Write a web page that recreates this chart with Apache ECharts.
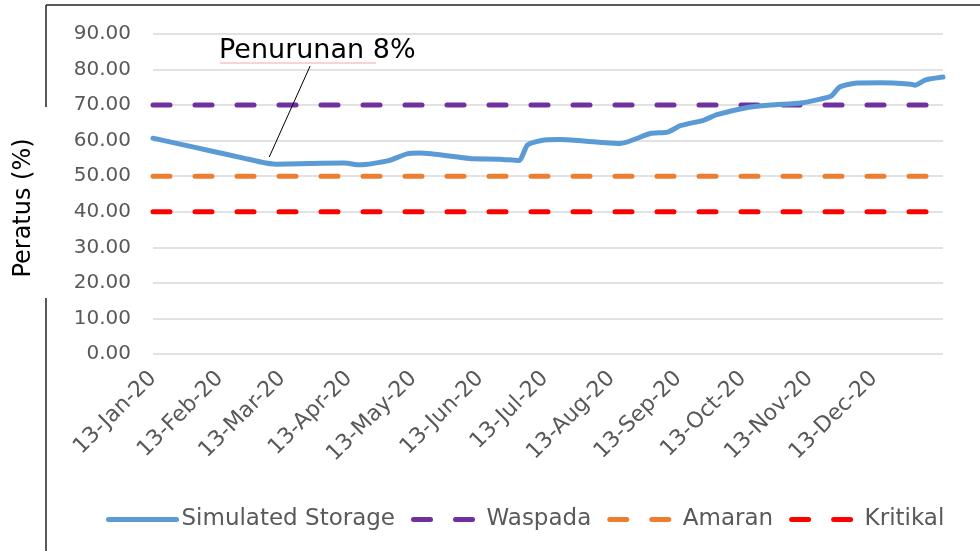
<!DOCTYPE html>
<html>
<head>
<meta charset="utf-8">
<script src="https://cdn.jsdelivr.net/npm/echarts@6/dist/echarts.min.js"></script>
<style>
  html, body { margin: 0; padding: 0; background: #fff; }
  #main { width: 980px; height: 551px; }
</style>
</head>
<body>
<div id="main"></div>
<script>
// data
const storageDates = [
  '2020-01-13', '2020-01-25', '2020-02-09', '2020-02-24', '2020-03-03', '2020-03-10',
  '2020-03-21', '2020-04-11', '2020-04-18', '2020-05-01', '2020-05-10', '2020-05-16',
  '2020-06-08', '2020-06-22', '2020-07-01', '2020-07-05', '2020-07-11', '2020-07-20',
  '2020-08-08', '2020-08-17', '2020-08-31', '2020-09-08', '2020-09-14', '2020-09-25',
  '2020-10-01', '2020-10-14', '2020-10-26', '2020-11-09', '2020-11-18', '2020-11-23',
  '2020-11-27', '2020-12-05', '2020-12-16', '2020-12-30', '2021-01-01', '2021-01-06',
  '2021-01-14'
];
const storageValues = [
  60.7, 59.1, 57.1, 55.1, 54.0, 53.4,
  53.5, 53.7, 53.2, 54.3, 56.3, 56.5,
  55.0, 54.8, 54.4, 58.8, 60.0, 60.3,
  59.5, 59.2, 62.0, 62.4, 64.2, 65.8,
  67.3, 69.2, 70.0, 70.6, 71.7, 72.5,
  75.1, 76.2, 76.3, 75.9, 75.6, 77.1,
  77.9
];
const waspada = 70;
const amaran = 50;
const kritikal = 40;
const tickDates = [
  '2020-01-13', '2020-02-13', '2020-03-13', '2020-04-13', '2020-05-13', '2020-06-13',
  '2020-07-13', '2020-08-13', '2020-09-13', '2020-10-13', '2020-11-13', '2020-12-13'
];
const tickLabels = [
  '13-Jan-20', '13-Feb-20', '13-Mar-20', '13-Apr-20', '13-May-20', '13-Jun-20',
  '13-Jul-20', '13-Aug-20', '13-Sep-20', '13-Oct-20', '13-Nov-20', '13-Dec-20'
];
const startDate = '2020-01-13';
const endDate = '2021-01-14';

// tanggal -> timestamp (waktu lokal)
function ts(s) {
  const p = s.split('-');
  return new Date(+p[0], +p[1] - 1, +p[2]).getTime();
}

const tickTs = tickDates.map(ts);
const fontFam = '"DejaVu Sans", sans-serif';
const grey = '#595959';

function flatLine(v) {
  return [[ts(startDate), v], [ts(endDate), v]];
}

function dashed(name, color, v) {
  return {
    name: name,
    type: 'line',
    data: flatLine(v),
    showSymbol: false,
    symbol: 'none',
    silent: true,
    lineStyle: { color: color, width: 5, type: [17, 25], cap: 'round' },
    itemStyle: { color: color }
  };
}

const Chart = echarts.init(document.getElementById('main'));

const options = {
  animation: false,
  textStyle: { fontFamily: fontFam },
  grid: { left: 153, right: 37, top: 34, bottom: 197 },
  legend: {
    left: 101,
    top: 503,
    itemWidth: 68,
    itemHeight: 14,
    itemGap: 16,
    itemStyle: { opacity: 0 },
    lineStyle: { width: 5, cap: 'round' },
    textStyle: { fontSize: 23, color: grey, fontFamily: fontFam },
    data: ['Simulated Storage', 'Waspada', 'Amaran', 'Kritikal']
  },
  xAxis: {
    type: 'value',
    min: ts(startDate),
    max: ts(endDate),
    axisLine: { show: false },
    axisTick: { show: false },
    splitLine: { show: false },
    axisLabel: {
      customValues: tickTs,
      rotate: 45,
      margin: 21,
      fontSize: 22,
      color: grey,
      fontFamily: fontFam,
      formatter: function (value) {
        const i = tickTs.indexOf(value);
        return i >= 0 ? tickLabels[i] : '';
      }
    }
  },
  yAxis: {
    type: 'value',
    min: 0,
    max: 90,
    interval: 10,
    axisLine: { show: false },
    axisTick: { show: false },
    splitLine: { lineStyle: { color: '#d9d9d9', width: 1.5 } },
    axisLabel: {
      margin: 22,
      fontSize: 20,
      color: grey,
      fontFamily: fontFam,
      formatter: function (v) { return v.toFixed(2); }
    }
  },
  series: [
    {
      name: 'Simulated Storage',
      type: 'line',
      data: storageDates.map((d, i) => [ts(d), storageValues[i]]),
      showSymbol: false,
      symbol: 'none',
      smooth: 0.2,
      z: 5,
      lineStyle: { color: '#5b9bd5', width: 5, cap: 'round', join: 'round' },
      itemStyle: { color: '#5b9bd5' },
      markLine: {
        silent: true,
        symbol: 'none',
        label: { show: false },
        lineStyle: { color: '#000', width: 1, type: 'solid' },
        data: [[{ coord: [ts('2020-03-07'), 55.4] }, { coord: [ts('2020-03-26'), 81.0] }]]
      }
    },
    dashed('Waspada', '#7030a0', waspada),
    dashed('Amaran', '#ed7d31', amaran),
    dashed('Kritikal', '#ff0000', kritikal)
  ],
  graphic: [
    // bingkai
    { type: 'line', shape: { x1: 46, y1: 5, x2: 980, y2: 5 }, style: { stroke: '#222', lineWidth: 1.5 } },
    { type: 'line', shape: { x1: 46, y1: 5, x2: 46, y2: 107 }, style: { stroke: '#222', lineWidth: 1.5 } },
    { type: 'line', shape: { x1: 46, y1: 298, x2: 46, y2: 551 }, style: { stroke: '#222', lineWidth: 1.5 } },
    {
      type: 'text',
      x: 24,
      y: 208,
      rotation: Math.PI / 2,
      style: {
        text: 'Peratus (%)',
        fontSize: 24,
        fontFamily: fontFam,
        fill: '#000',
        align: 'center',
        verticalAlign: 'middle'
      }
    },
    {
      type: 'text',
      x: 219,
      y: 51,
      style: {
        text: 'Penurunan 8%',
        fontSize: 27,
        fontFamily: fontFam,
        fill: '#000',
        align: 'left',
        verticalAlign: 'middle'
      }
    },
    { type: 'line', shape: { x1: 220, y1: 63, x2: 376, y2: 63 }, style: { stroke: '#f4a6a6', lineWidth: 1 } }
  ]
};

Chart.setOption(options);
</script>
</body>
</html>
